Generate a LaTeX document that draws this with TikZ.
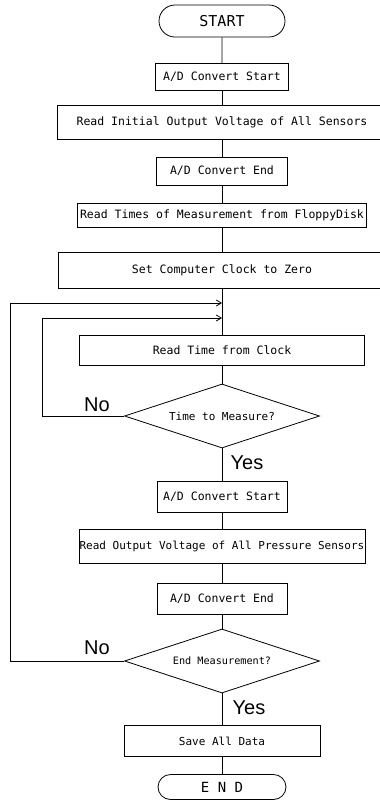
\documentclass[tikz,border=0pt]{standalone}
\usepackage{fontspec}
\setmonofont{DejaVu Sans Mono}
\setsansfont{Liberation Sans}
\usetikzlibrary{shapes.geometric,shapes.misc,arrows.meta}

\tikzset{
  flowline/.style={line width=0.8pt},
  loopline/.style={line width=0.8pt,-{Straight Barb[length=5pt,width=6pt]}},
  procbox/.style={draw,line width=0.8pt,rectangle,inner sep=0pt,
    font=\ttfamily\fontsize{11.5}{13}\selectfont},
  smallbox/.style={procbox,font=\ttfamily\fontsize{11}{13}\selectfont},
  decision/.style={draw,line width=0.8pt,diamond,aspect=3,inner sep=0pt,
    minimum width=195pt,minimum height=64pt,font=\ttfamily\fontsize{11}{13}\selectfont},
  terminal/.style={draw,line width=0.8pt,rounded rectangle,inner sep=0pt},
  answer/.style={font=\sffamily\fontsize{20}{22}\selectfont,inner sep=0pt}
}

\begin{document}
\begin{tikzpicture}[x=1pt,y=-1pt]
  \clip (0,0) rectangle (380,807); % page frame
  % main column
  \node[terminal,minimum width=126pt,minimum height=32pt,font=\ttfamily\fontsize{15}{17}\selectfont] (start) at (222,21) {START};
  \node[procbox,minimum width=133pt,minimum height=27pt] (adc1) at (222,77) {A/D Convert Start};
  \node[procbox,minimum width=330pt,minimum height=34pt] (readinit) at (222,122) {Read Initial Output Voltage of All Sensors};
  \node[procbox,minimum width=131pt,minimum height=28pt] (adcend1) at (222,171) {A/D Convert End};
  \node[procbox,minimum width=289pt,minimum height=24pt] (readtimes) at (222,215) {Read Times of Measurement from FloppyDisk};
  \node[procbox,minimum width=328pt,minimum height=36pt] (setclock) at (222,270) {Set Computer Clock to Zero};
  \node[procbox,minimum width=285pt,minimum height=30pt] (readclock) at (222,350) {Read Time from Clock};
  \node[decision] (timeq) at (222,416) {Time to Measure?};
  \node[procbox,minimum width=130pt,minimum height=31pt] (adc2) at (222,497) {A/D Convert Start};
  \node[smallbox,minimum width=286pt,minimum height=34pt] (readout) at (222,546) {Read Output Voltage of All Pressure Sensors};
  \node[procbox,minimum width=130pt,minimum height=31pt] (adcend2) at (222,599) {A/D Convert End};
  \node[decision,font=\ttfamily\fontsize{10.2}{12}\selectfont] (endq) at (222,661) {End Measurement?};
  \node[smallbox,minimum width=196pt,minimum height=31pt] (save) at (222,741) {Save All Data};
  \node[terminal,minimum width=128pt,minimum height=25pt,font=\ttfamily\fontsize{14}{16}\selectfont] (end) at (222,787) {E N D};

  \foreach \a/\b in {start/adc1,adc1/readinit,readinit/adcend1,adcend1/readtimes,
      readtimes/setclock,setclock/readclock,readclock/timeq,timeq/adc2,adc2/readout,
      readout/adcend2,adcend2/endq,endq/save,save/end}
    \draw[flowline] (\a) -- (\b);

  % return loops
  \coordinate (join1) at (222,303);
  \coordinate (join2) at (222,318);
  \coordinate (noturn1) at (42,318);
  \coordinate (noturn2) at (10,303);
  \draw[loopline] (timeq.west) -| (noturn1) -- (join2); % wait for next time
  \draw[loopline] (endq.west) -| (noturn2) -- (join1); % next measurement

  % answers
  \node[answer] (no1) at (97,405) {No};
  \node[answer] (yes1) at (247,463) {Yes};
  \node[answer] (no2) at (97,648) {No};
  \node[answer] (yes2) at (249,708) {Yes};
\end{tikzpicture}
\end{document}
